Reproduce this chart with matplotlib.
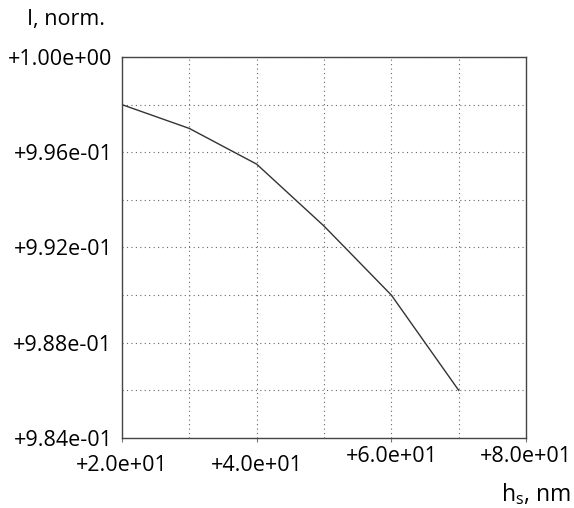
import numpy as np
import matplotlib
matplotlib.use("Agg")
import matplotlib.pyplot as plt
from matplotlib.transforms import blended_transform_factory

plt.rcParams["font.family"] = ["Open Sans", "DejaVu Sans"]

# data
h_s = [20, 30, 40, 50, 60, 70]
I_norm = [0.9980, 0.9970, 0.9955, 0.9929, 0.9900, 0.9860]
x_ticks = [20, 40, 60, 80]
x_labels = ["+2.0e+01", "+4.0e+01", "+6.0e+01", "+8.0e+01"]
y_ticks = [0.984, 0.988, 0.992, 0.996, 1.000]
y_labels = ["+9.84e-01", "+9.88e-01", "+9.92e-01", "+9.96e-01", "+1.00e+00"]

FS = 15.5

fig = plt.figure(figsize=(5.74, 5.08), dpi=100)
ax = fig.add_axes([0.2125, 0.1378, 0.704, 0.750])

ax.plot(h_s, I_norm, color="#333333", lw=1.0)
ax.set_xlim(20, 80)
ax.set_ylim(0.984, 1.000)

# dotted grid every 10 nm and every 0.002
for xv in np.arange(30, 80, 10):
    ax.axvline(xv, color="#666666", lw=0.8, ls=(0, (1, 3)), zorder=0)
for yv in np.arange(0.986, 1.0, 0.002):
    ax.axhline(yv, color="#666666", lw=0.8, ls=(0, (1, 3)), zorder=0)

for s in ax.spines.values():
    s.set_color("#444444")
    s.set_linewidth(1.0)

ax.set_yticks(y_ticks)
ax.set_yticklabels(y_labels, fontsize=FS)
ax.tick_params(axis="y", length=0, pad=7)
ax.set_xticks(x_ticks)
ax.set_xticklabels([])
ax.tick_params(axis="x", length=3, width=0.8, color="#777777", direction="out")

# staggered x labels as in the reference
tr = blended_transform_factory(ax.transData, ax.transAxes)
offs = [-0.072, -0.072, -0.048, -0.048]
for xv, lab, o in zip(x_ticks, x_labels, offs):
    ax.text(xv, o, lab, transform=tr, ha="center", va="center", fontsize=FS)

fig.text(66 / 574, 1 - 20 / 508, "I, norm.", ha="center", va="center", fontsize=FS)
fig.text(536 / 574, 1 - 494 / 508, r"h$_\mathregular{s}$, nm", ha="center", va="center", fontsize=FS + 1)

fig.savefig("out.png", dpi=100)
